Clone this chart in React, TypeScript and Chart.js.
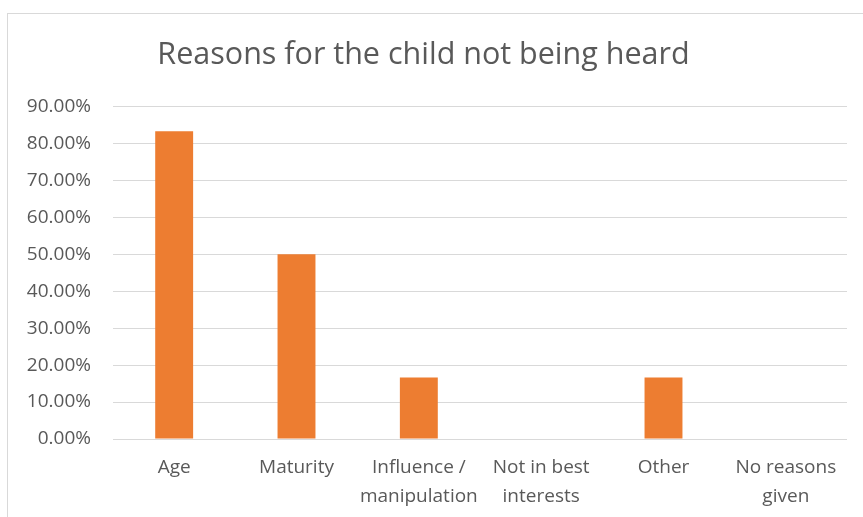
import React, { useEffect, useRef } from "react";
import { Chart, registerables } from "chart.js";

Chart.register(...registerables);

const categories: (string | string[])[] = [
  "Age",
  "Maturity",
  ["Influence /", "manipulation"],
  ["Not in best", "interests"],
  "Other",
  ["No reasons", "given"],
];
const values: number[] = [83.33, 50, 16.67, 0, 16.67, 0];
const yTicks: number[] = [0, 10, 20, 30, 40, 50, 60, 70, 80, 90];
const titleText = "Reasons for the child not being heard";

const TEXT = "#595959";
const GRID = "#D9D9D9";
const BAR = "#ED7D31";
const FONT = "'Open Sans', 'Noto Sans', sans-serif";

const borderPlugin = {
  id: "outerBorder",
  beforeDraw(chart: any) {
    const ctx = chart.ctx;
    ctx.save();
    ctx.fillStyle = "#ffffff";
    ctx.fillRect(0, 0, chart.width, chart.height);
    ctx.fillStyle = GRID;
    ctx.fillRect(7, 13, chart.width - 7, 1);
    ctx.fillRect(7, 13, 1, chart.height - 13);
    ctx.restore();
  },
};

export default function App() {
  const ref = useRef<HTMLCanvasElement>(null);
  useEffect(() => {
    if (!ref.current) return;
    const chart = new Chart(ref.current, {
      type: "bar",
      data: {
        labels: categories,
        datasets: [
          {
            data: values,
            backgroundColor: BAR,
            borderWidth: 0,
            categoryPercentage: 1,
            barPercentage: 0.31,
          },
        ],
      },
      options: {
        responsive: false,
        animation: false,
        layout: { padding: { left: 0, right: 16, top: 0, bottom: 6 } },
        plugins: {
          legend: { display: false },
          tooltip: { enabled: false },
          title: {
            display: true,
            text: titleText,
            color: TEXT,
            font: { family: FONT, size: 30.5, weight: "normal", lineHeight: 1.2 },
            padding: { top: 37, bottom: 33 },
          },
        },
        scales: {
          x: {
            afterFit: (scale: any) => {
              scale.height = 72;
            },
            grid: { display: false, drawTicks: false, tickLength: 0 },
            border: { display: false },
            ticks: {
              color: TEXT,
              font: { family: FONT, size: 19, lineHeight: 1.48 },
              padding: 15,
              autoSkip: false,
              maxRotation: 0,
              minRotation: 0,
            },
          },
          y: {
            min: 0,
            max: 90,
            afterFit: (scale: any) => {
              scale.width = 113;
            },
            afterBuildTicks: (scale: any) => {
              scale.ticks = yTicks.map((v) => ({ value: v }));
            },
            grid: { color: GRID, lineWidth: 1, drawTicks: false, tickLength: 0 },
            border: { display: false },
            ticks: {
              color: TEXT,
              font: { family: FONT, size: 19 },
              padding: 22,
              callback: (v: any) => Number(v).toFixed(2) + "%",
            },
          },
        },
      },
      plugins: [borderPlugin],
    });
    return () => chart.destroy();
  }, []);
  return (
    <div style={{ position: "fixed", left: 0, top: 0, width: 863, height: 517 }}>
      <canvas ref={ref} width={863} height={517} />
    </div>
  );
}
